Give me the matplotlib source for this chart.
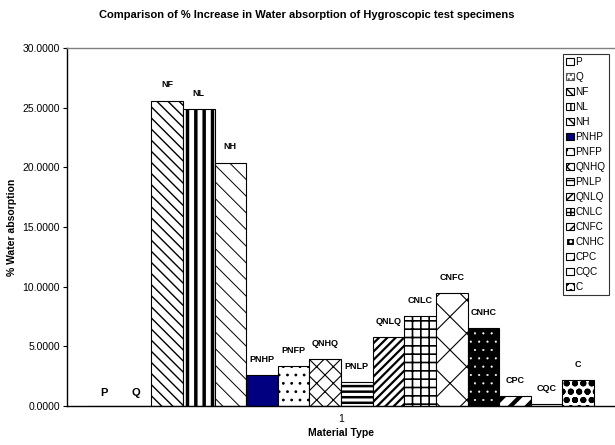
import matplotlib
matplotlib.use("Agg")
import matplotlib.pyplot as plt
from matplotlib.patches import Patch

plt.rcParams['font.family'] = ['Liberation Sans', 'DejaVu Sans']

categories = ["1"]
series = ["P", "Q", "NF", "NL", "NH", "PNHP", "PNFP", "QNHQ", "PNLP",
          "QNLQ", "CNLC", "CNFC", "CNHC", "CPC", "CQC", "C"]
values = [0.0, 0.0, 25.6, 24.9, 20.4, 2.6, 3.35, 3.9, 2.0,
          5.75, 7.55, 9.5, 6.5, 0.8, 0.15, 2.15]
yticks = [0, 5, 10, 15, 20, 25, 30]

# style per series: (facecolor, hatch, hatchcolor, hatch linewidth)
styles = {
    "P":    ("white", "", "black", 1.0),
    "Q":    ("white", "....", "#555555", 1.0),
    "NF":   ("white", "\\\\\\", "black", 1.0),
    "NL":   ("white", "||", "black", 2.5),
    "NH":   ("white", "\\\\", "black", 0.7),
    "PNHP": ("#000080", "", "black", 1.0),
    "PNFP": ("white", "..", "black", 0.8),
    "QNHQ": ("white", "xx", "black", 0.8),
    "PNLP": ("white", "---", "black", 1.8),
    "QNLQ": ("white", "////", "black", 1.6),
    "CNLC": ("white", "++", "black", 1.2),
    "CNFC": ("white", "x", "black", 0.8),
    "CNHC": ("black", "..", "white", 0.3),
    "CPC":  ("white", "//", "black", 3.0),
    "CQC":  ("white", "", "black", 1.0),
    "C":    ("white", "oo", "black", 2.0),
}

fig = plt.figure(figsize=(6.15, 4.45), dpi=100)
ax = fig.add_axes([67 / 615, 1 - 406 / 445, (615 - 67) / 615, (406 - 48) / 445])

n = len(series)
group = 506 / 548
w = group / n
start = -group / 2

handles = []
for i, (name, v) in enumerate(zip(series, values)):
    fc, hatch, hc, hlw = styles[name]
    x = start + w * (i + 0.5)
    b = ax.bar(x, v, width=w, color=fc, edgecolor=hc, hatch=hatch, linewidth=0)[0]
    try:
        b.set_hatch_linewidth(hlw)
    except AttributeError:
        pass
    ax.bar(x, v, width=w, fill=False, edgecolor="black", linewidth=0.8)
    big = v < 0.1
    ax.annotate(name, (x, v), xytext=(0, 6 if big else 8), textcoords="offset points",
                ha="center", va="bottom", fontsize=8 if big else 6.5, fontweight="bold")
    hp = Patch(facecolor=fc, edgecolor=hc, hatch=hatch, linewidth=0.8)
    try:
        hp.set_hatch_linewidth(min(hlw, 1.0))
    except AttributeError:
        pass
    handles.append(hp)

ax.set_xlim(-0.5, 0.5)
ax.set_ylim(0, 30)
ax.set_yticks(yticks)
ax.set_yticklabels([f"{t:.4f}" for t in yticks], fontsize=7.5)
ax.set_xticks([0])
ax.set_xticklabels(categories, fontsize=7.5)
ax.tick_params(axis='x', length=0, pad=6)
ax.tick_params(axis='y', length=3, width=0.8, pad=2)

for s in ["left", "bottom"]:
    ax.spines[s].set_color("black")
    ax.spines[s].set_linewidth(1.0)
ax.spines["top"].set_color("#808080")
ax.spines["top"].set_linewidth(1.0)
ax.spines["right"].set_visible(False)

ax.set_ylabel("% Water absorption", fontsize=7.5, fontweight="bold", labelpad=4)
ax.set_xlabel("Material Type", fontsize=7.5, fontweight="bold", labelpad=3)
fig.text(307 / 615, 1 - 15 / 445, "Comparison of % Increase in Water absorption of Hygroscopic test specimens",
         ha="center", va="center", fontsize=8, fontweight="bold")

leg = fig.legend(handles, series, loc="upper left",
                 bbox_to_anchor=(563 / 615, 1 - 54 / 445),
                 fontsize=7.2, frameon=True, fancybox=False,
                 handlelength=0.75, handleheight=0.75, handletextpad=0.2,
                 labelspacing=0.5, borderpad=0.3, borderaxespad=0)
leg.get_frame().set_edgecolor("black")
leg.get_frame().set_linewidth(0.8)

fig.savefig("out.png", dpi=100)
